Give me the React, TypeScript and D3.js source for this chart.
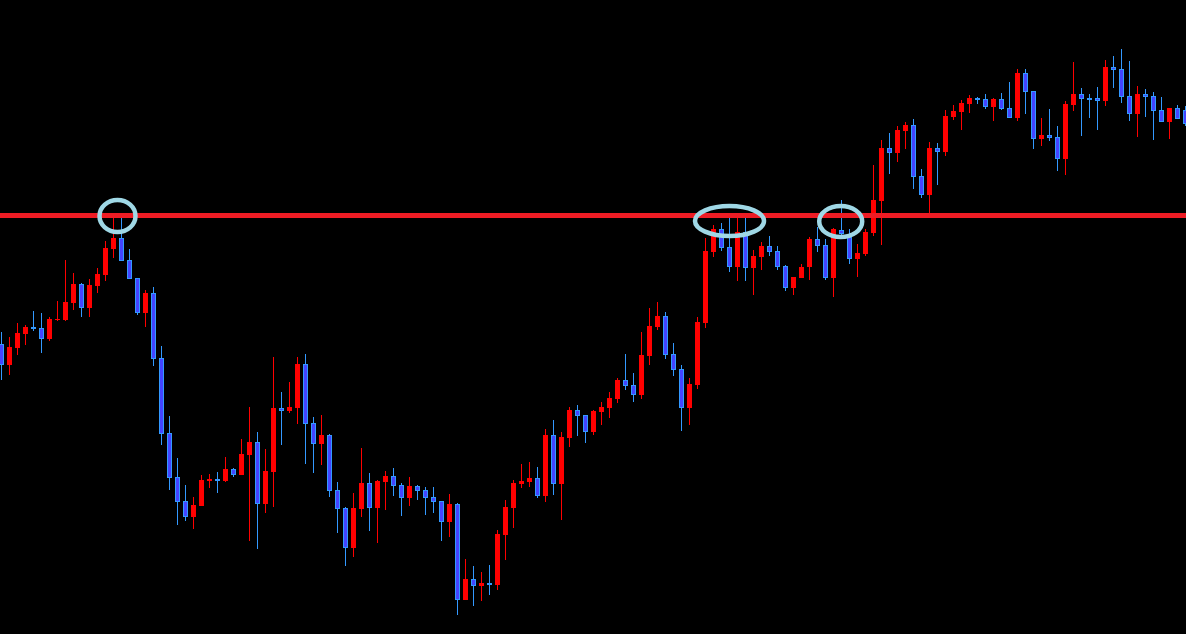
import React from "react";
import * as d3 from "d3";

const opens = [
  290,269,286,300,307,306,295,314,314,331,
  350,326,348,359,385,396,374,356,321,341,
  276,201,157,133,117,128,153,155,153,165,
  159,179,192,130,162,226,223,226,270,211,
  190,199,144,126,86,125,151,126,152,158,
  149,136,148,144,137,133,112,130,34,55,
  48,51,49,99,126,150,152,156,138,199,
  150,196,224,219,202,222,226,235,254,249,
  239,278,307,318,280,265,226,249,311,382,
  405,387,367,402,366,377,388,383,368,346,
  356,367,395,389,356,404,397,375,380,401,
  433,486,481,503,509,458,439,486,482,517,
  522,530,536,535,527,535,526,516,561,543,
  495,499,497,475,529,540,536,536,533,567,
  565,538,520,540,538,524,512,526,524,
];
const highs = [
  302,297,311,309,323,321,317,333,374,361,
  351,355,366,393,419,419,385,356,344,347,
  288,218,176,149,137,159,160,162,177,166,
  195,227,202,185,277,242,252,277,280,217,
  219,200,152,127,141,186,161,154,163,166,
  151,157,149,147,147,133,140,131,75,68,
  62,69,104,134,154,170,172,167,205,214,
  202,227,229,219,224,232,242,256,280,261,
  302,326,332,322,291,269,256,317,396,409,
  411,420,419,416,384,392,398,388,369,357,
  370,397,407,395,406,434,405,390,405,469,
  494,501,508,512,515,465,492,491,524,529,
  534,539,537,540,536,541,552,565,565,543,
  516,525,508,533,572,546,540,547,574,578,
  585,573,548,545,542,537,526,529,528,
];
const lows = [
  254,259,279,289,303,281,293,313,313,324,
  317,317,341,353,376,373,355,319,307,268,
  189,144,109,113,105,128,146,141,152,157,
  159,93,85,121,127,189,221,210,170,161,
  169,137,101,68,77,117,103,91,124,138,
  118,128,134,119,121,93,97,19,34,28,
  33,39,44,74,106,146,147,136,132,139,
  114,187,198,191,199,209,216,231,244,232,
  235,269,304,275,258,203,209,245,306,377,
  383,362,353,353,339,364,378,364,343,339,
  356,354,382,354,337,398,370,357,378,398,
  389,460,472,485,445,436,421,449,478,514,
  504,521,530,525,513,524,516,513,520,485,
  488,493,463,459,523,498,516,504,528,546,
  531,513,497,517,494,512,495,515,508,
];
const closes = [
  269,287,301,307,305,295,315,315,332,350,
  326,349,360,386,396,373,355,321,341,275,
  200,156,132,117,129,154,155,153,165,159,
  180,192,130,163,226,223,227,270,210,190,
  199,143,125,86,126,151,126,153,158,148,
  136,148,143,136,132,112,130,34,55,48,
  51,49,100,127,151,153,156,138,199,150,
  197,224,218,202,223,227,236,254,248,239,
  279,308,318,279,264,226,250,312,383,405,
  386,367,402,366,378,388,382,367,346,357,
  367,395,388,356,405,400,375,381,402,434,
  486,481,504,509,457,439,486,482,518,523,
  531,536,534,527,535,525,516,561,542,495,
  499,496,475,530,540,535,535,533,567,564,
  537,520,540,537,523,512,526,515,510,
];

const resistanceLevel = 418.5;
// touches: candle index (centre), price level
const touchIdx = [14.5, 91, 104.9];
const touchLevel = [418, 413, 412.5];
const touchRx = [18, 34.5, 21.5];
const touchRy = [16, 15, 15.5];

const W = 1186;
const H = 634;

export default function App() {
  const n = opens.length;
  const x = d3.scaleLinear().domain([0, n - 1]).range([1.5, 1.5 + 8 * (n - 1)]);
  const y = d3.scaleLinear().domain([0, 634]).range([H, 0]);

  const RED = "#ff0000";
  const BLUE_FILL = "#4444ff";
  const BLUE_LINE = "#3399ff";

  return (
    <svg
      width={W}
      height={H}
      style={{ position: "absolute", left: 0, top: 0, background: "#000", display: "block" }}
    >
      <rect x={0} y={0} width={W} height={H} fill="#000" />
      {opens.map((o, i) => {
        const c = closes[i];
        const up = c >= o;
        const cx = x(i);
        const top = y(Math.max(o, c));
        const bot = y(Math.min(o, c));
        const col = up ? RED : BLUE_LINE;
        return (
          <g key={i}>
            <line
              x1={cx}
              x2={cx}
              y1={y(highs[i])}
              y2={y(lows[i])}
              stroke={col}
              strokeWidth={1}
              shapeRendering="crispEdges"
            />
            {up ? (
              <rect
                x={cx - 2.5}
                y={top}
                width={5}
                height={Math.max(bot - top, 1)}
                fill={RED}
                shapeRendering="crispEdges"
              />
            ) : (
              <rect
                x={cx - 2}
                y={top + 0.5}
                width={4}
                height={Math.max(bot - top - 1, 1)}
                fill={BLUE_FILL}
                stroke={BLUE_LINE}
                strokeWidth={1}
                shapeRendering="crispEdges"
              />
            )}
          </g>
        );
      })}
      <line
        x1={0}
        x2={W}
        y1={y(resistanceLevel)}
        y2={y(resistanceLevel)}
        stroke="#ed1c24"
        strokeWidth={5}
      />
      {touchIdx.map((ti, j) => (
        <ellipse
          key={j}
          cx={x(ti)}
          cy={y(touchLevel[j])}
          rx={touchRx[j]}
          ry={touchRy[j]}
          fill="none"
          stroke="#9fd8e6"
          strokeWidth={4.5}
        />
      ))}
    </svg>
  );
}
